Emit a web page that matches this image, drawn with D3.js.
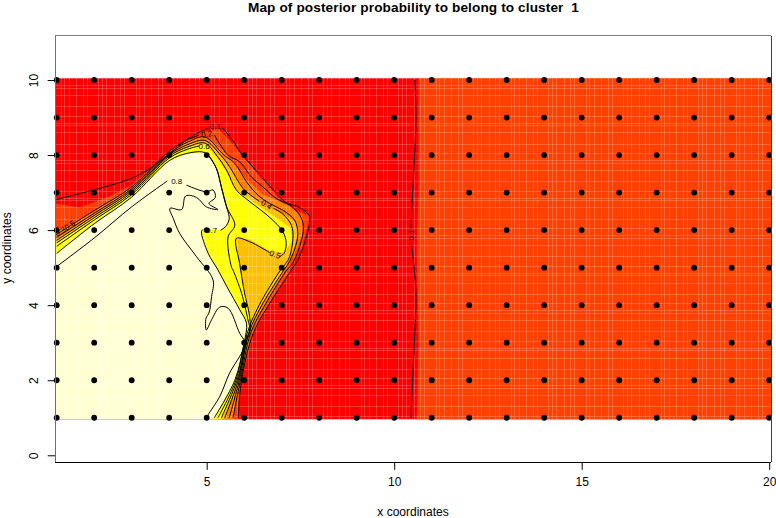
<!DOCTYPE html>
<html><head><meta charset="utf-8">
<script src="https://cdn.jsdelivr.net/npm/d3@7/dist/d3.min.js"></script>
<style>html,body{margin:0;padding:0;background:#fff}svg{display:block}text{font-family:"Liberation Sans",Arial,sans-serif;fill:#000;white-space:pre}</style>
</head><body><svg id="c" width="776" height="518"></svg>
<script>
const titleText = "Map of posterior probability to belong to cluster  1";
const xLabel = "x coordinates", yLabel = "y coordinates";
const xTicks = [5,10,15,20], yTicks = [0,2,4,6,8,10];
const gridX = [1,2,3,4,5,6,7,8,9,10,11,12,13,14,15,16,17,18,19,20];
const gridY = [1,2,3,4,5,6,7,8,9,10];
const seamFracX = [.115,.22,.34,.53,.71,.82], seamFracY = [.04,.29,.59,.78,.85];
const N = null;

// contour lines in data coordinates; null marks the gap left for a label
const c01 = [[1,6.82],[1.98,7.07],[3,7.38],[3.48,7.64],[4.02,8.04],[4.46,8.4],[4.82,8.62],[5.05,8.72],N,[5.42,8.72],[5.66,8.44],[5.92,8.04],[6.19,7.73],[6.5,7.38],[6.86,6.98],[7.12,6.73],[7.48,6.6],[7.73,6.4],[7.74,6.18],[7.61,5.65],[7.43,5.2],[7.26,4.94],[6.65,4],[6.24,3.25],[5.93,2],[5.84,1]];
const c02 = [[1,5.89],[2,6.52],[3,7.15],[4,8.1],[4.5,8.41],[4.8,8.53],N,[5.2,8.54],[5.57,8],[5.88,7.82],[6.19,7.42],[6.5,7.15],[6.86,6.84],[7.21,6.67],[7.48,6.4],[7.58,6.09],[7.48,5.56],[7.26,5.07],[7.14,4.94],[6.55,4],[6.17,3.25],[5.9,2],[5.7,1]];
const c03 = [[1,5.81],[2,6.45],[3,7.1],[4,8.05],[4.5,8.35],[4.95,8.48],[5.46,8],[5.75,7.78],[6.06,7.29],[6.37,6.93],[6.68,6.71],[7.03,6.53],[7.34,6.27],[7.43,5.91],[7.34,5.47],[7.17,5.1],[7.06,4.94],[6.47,4],[6.12,3.25],[5.87,2],[5.6,1]];
const c04 = [[1,5.73],[2,6.39],[3,7.05],[4,8.01],[4.5,8.28],[4.95,8.39],[5.37,8],[5.61,7.69],[5.97,7.11],[6.23,6.89],[6.4,6.77],N,[6.78,6.58],[7.03,6.43],[7.26,6.13],[7.3,5.78],[7.21,5.29],[7.1,5.1],[6.97,4.94],[6.4,4],[6.08,3.25],[5.84,2],[5.48,1]];
const c05 = [[1,5.66],[2,6.33],[3,7],[4,7.97],[4.5,8.22],[4.95,8.32],[5.26,8],[5.53,7.6],[5.79,7.07],[6.15,6.76],[6.68,6.34],[7.03,5.96],[7.12,5.65],[7.06,5.38],[6.94,5.29],N,[6.68,5.4],[6.15,5.69],[5.79,5.78],[5.88,5.11],[6.01,4.32],[6.13,3.79],[6.16,3.34],[6.06,3.03],[5.81,2],[5.39,1]];
const c06 = [[1,5.57],[2,6.27],[3,6.95],[4,7.92],[4.5,8.16],[4.8,8.24],N,[5.04,8],[5.26,7.64],[5.39,7.15],[5.53,6.62],[5.75,6.13],[5.57,5.82],[5.66,5.02],[5.7,4.94],[5.93,4.32],[6.1,3.61],[6.15,3.34],[6.01,3],[5.78,2],[5.3,1]];
const c07 = [[1,5.38],[2,6.17],[3,6.88],[4,7.85],[4.5,8.05],[4.9,8.08],[5.04,8],[5.26,7.64],[5.39,7.15],[5.53,6.62],[5.6,6.3],[5.5,6.09],[5.37,6],N,[4.9,6.02],[4.86,5.96],[5.04,5.38],[5.3,4.94],[5.54,4.49],[5.88,3.88],[6.06,3.52],[6,3],[5.75,2],[5.2,1]];
const c08 = [[1,5.03],[2,5.79],[3,6.62],[3.95,7.31],N,[4.46,7.2],[4.99,7.02],[5.17,7.07],[5.23,6.87],[5.06,6.71],[5.3,6.55],[4.99,6.62],[4.73,6.87],[4.44,6.91],[4.33,6.55],[4.02,6.58],[4.11,6.31],[4.28,5.91],[4.73,5.29],[5.17,4.67],[5.13,4.23],[5.06,3.79],[4.98,3.65],[4.99,3.34],[5.13,3.61],[5.35,3.95],[5.57,3.92],[5.88,3.25],[6.01,3.03],[5.97,2.81],[5.61,2.19],[5.35,1.57],[5.04,1.08],[5,1]];
const cRight = [[10.55,10],[10.58,9],[10.53,7.7],[10.47,6.6],[10.45,6.05],N,[10.45,5.68],[10.5,5.3],[10.58,4.3],[10.55,3.3],[10.5,2.2],[10.45,1]];

// edges of the filled colour regions
const fillLowEdge = [[1,6.7],[1.6,6.6],[2.3,6.85],[3,7.2],[4,8.05],[4.9,8.6],[5.3,8.7],[5.6,8.4],[6.4,7.45],[7.1,6.65],[7.7,6.4],[7.7,6.15],[7.55,5.6],[7.2,4.9],[6.65,4],[6.24,3.25],[5.93,2],[5.84,1]];
const fillRightEdge = [[10.65,10.05],[10.65,7],[10.6,5.5],[10.65,3],[10.6,0.96]];
const fillOrange = [[1,5.95],[2,6.5],[3,7.15],[4,8.1],[4.5,8.41],[4.95,8.5],[5.4,8.15],[5.75,7.75],[6.1,7.3],[6.5,6.95],[7.2,6.65],[7.55,6.35],[7.55,5.9],[7.4,5.5],[7.1,4.95],[6.55,4],[6.17,3.25],[5.9,2],[5.7,1]];
const fillAmber = [[1,5.75],[2,6.39],[3,7.05],[4,8.01],[4.5,8.28],[4.95,8.39],[5.37,8],[5.65,7.65],[5.97,7.1],[6.4,6.75],[7.03,6.43],[7.4,6.2],[7.42,5.85],[7.3,5.45],[7.06,4.94],[6.45,4],[6.1,3.25],[5.85,2],[5.48,1]];
const fillYellow = [[1,5.68],[2,6.33],[3,7],[4,7.97],[4.5,8.2],[4.95,8.28],[5.26,7.95],[5.53,7.55],[5.75,7.1],[6.3,6.7],[6.9,6.3],[7.25,6.05],[7.27,5.7],[7.06,5.4],[6.68,5.45],[6.15,5.75],[5.75,5.8],[5.85,5.11],[6.01,4.32],[6.13,3.79],[6.16,3.34],[6.06,3.03],[5.81,2],[5.39,1]];
const levels = [
  {line:fillOrange,color:"#FF8000"},{line:fillAmber,color:"#FFBF00"},
  {line:fillYellow,color:"#FFFF00"},{line:c07,color:"#FFFFD2"}];
const contourLabels = [
  ["0.1",5.23,8.75,0],["0.2",5.0,8.55,-10],["0.6",4.93,8.22,0],["0.8",4.2,7.3,0],["0.7",5.13,6.0,0],
  ["0.4",6.59,6.67,30],["0.5",6.82,5.34,20],["0.3",1.1,5.95,-33],["0.5",1.35,6.12,-33],["0.1",10.45,5.87,-90]];

const x = d3.scaleLinear().domain([1,20]).range([56.7,769.2]);
const y = d3.scaleLinear().domain([0,10]).range([455.3,80]);
const xL=0.96,xR=20.05,yB=0.96,yT=10.05,boxB=-0.187,boxT=11.18;
const svg = d3.select("#c");
const poly = d3.line().x(d=>x(d[0])).y(d=>y(d[1]));
const seg = d3.line().defined(d=>d!==null).x(d=>x(d[0])).y(d=>y(d[1])).curve(d3.curveCatmullRom.alpha(0.5));

function closed(pts){
  const p=pts.filter(d=>d!==null), a=p[0], b=p[p.length-1];
  return [[xL,a[1]],...p,[b[0],yB],[xL,yB]];
}
const g = svg.append("g");
g.append("rect").attr("x",x(xL)).attr("y",y(yT)).attr("width",x(xR)-x(xL)).attr("height",y(yB)-y(yT)).attr("fill","#FF0000");
g.append("path").attr("d",poly([...fillRightEdge,[xR,yB],[xR,yT]])+"Z").attr("fill","#FF4000");
g.append("path").attr("d",poly(closed(fillLowEdge))+"Z").attr("fill","#FF4000");
g.selectAll("path.band").data(levels).join("path").attr("class","band")
  .attr("d",d=>poly(closed(d.line))+"Z").attr("fill",d=>d.color);

// pale seams of the image raster
const seams = svg.append("g").attr("stroke","#fff").attr("stroke-opacity",.2).attr("shape-rendering","crispEdges");
gridX.forEach(u=>seamFracX.forEach(f=>{ if(u+f<xR) seams.append("line").attr("x1",x(u+f)).attr("x2",x(u+f)).attr("y1",y(yT)).attr("y2",y(yB)); }));
gridY.forEach(v=>seamFracY.forEach(f=>{ if(v+f<yT) seams.append("line").attr("y1",y(v+f)).attr("y2",y(v+f)).attr("x1",x(xL)).attr("x2",x(xR)); }));

// contours
svg.append("g").attr("fill","none").attr("stroke","#000").attr("stroke-width",1)
  .selectAll("path").data([c01,c02,c03,c04,c05,c06,c07,c08,cRight]).join("path").attr("d",d=>seg(d));
svg.append("g").selectAll("text").data(contourLabels).join("text")
  .attr("font-size",8).attr("text-anchor","middle").attr("dominant-baseline","central")
  .attr("transform",d=>`translate(${x(d[1])},${y(d[2])}) rotate(${d[3]})`).text(d=>d[0]);

// points
const pts = gridX.flatMap(a=>gridY.map(b=>[a,b]));
svg.append("g").selectAll("circle").data(pts).join("circle").attr("cx",d=>x(d[0])).attr("cy",d=>y(d[1])).attr("r",2.9).attr("fill","#000");

// box and axes
const bx0=x(xL),bx1=x(xR),by0=y(boxT),by1=y(boxB);
const boxEdges=[[bx0,by0,bx1,by0,"#808080"],[bx0,by0,bx0,by1,"#707070"],[bx0,by1,bx1,by1,"#000"],[bx1,by0,bx1,by1,"#404040"]];
svg.append("g").attr("shape-rendering","crispEdges").selectAll("line").data(boxEdges).join("line")
  .attr("x1",d=>d[0]).attr("y1",d=>d[1]).attr("x2",d=>d[2]).attr("y2",d=>d[3]).attr("stroke",d=>d[4]);
const axB = svg.append("g").attr("transform",`translate(0,${y(boxB)})`).call(d3.axisBottom(x).tickValues(xTicks).tickSize(7.5).tickPadding(8).tickFormat(d3.format("d")));
const axL = svg.append("g").attr("transform",`translate(${x(xL)},0)`).call(d3.axisLeft(y).tickValues(yTicks).tickSize(7.5).tickFormat(d3.format("d")));
[axB,axL].forEach(a=>{a.select(".domain").remove();a.selectAll("text").attr("font-size",12).attr("font-family","Liberation Sans");});
axL.selectAll("text").attr("text-anchor","middle").attr("dy",null).attr("x",null).attr("y",null).attr("dominant-baseline","central").attr("transform","translate(-21.5,0) rotate(-90)");

svg.append("text").attr("x",413.5).attr("y",12.4).attr("text-anchor","middle").attr("font-size",13.6).attr("letter-spacing",0.12).attr("font-weight","bold").text(titleText);
svg.append("text").attr("x",413).attr("y",516).attr("text-anchor","middle").attr("font-size",12).text(xLabel);
svg.append("text").attr("transform","translate(10.9,248) rotate(-90)").attr("text-anchor","middle").attr("font-size",12).text(yLabel);
</script></body></html>
